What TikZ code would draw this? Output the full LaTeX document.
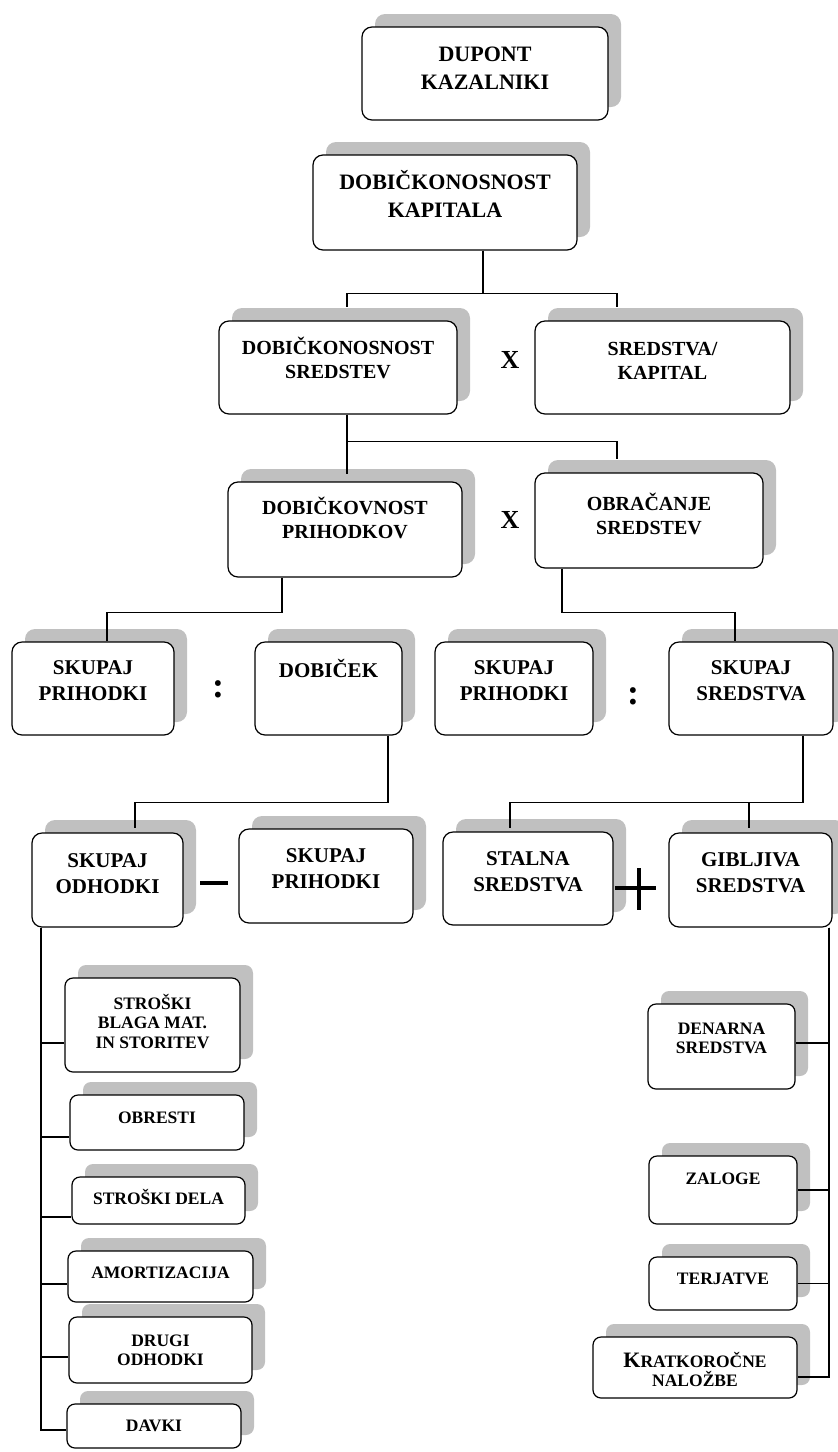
\documentclass[tikz,border=0pt]{standalone}
\usepackage{fontspec}
\setmainfont{Liberation Serif}
\usetikzlibrary{shadows}
\definecolor{shadowgray}{RGB}{192,192,192}
\newcommand{\kt}[4]{\parbox[c][#2pt][t]{#1pt}{\centering\rule{0pt}{#3pt}#4}}
\tikzset{
	kbox/.style={draw, fill=white, line width=1.2pt, rounded corners=10pt, inner sep=0pt,
		drop shadow={shadow xshift=13pt, shadow yshift=13pt, fill=shadowgray, opacity=1}},
	topbox/.style={kbox, font=\bfseries\fontsize{22}{28}\selectfont},
	midbox/.style={kbox, font=\bfseries\fontsize{20}{24}\selectfont},
	rowbox/.style={kbox, font=\bfseries\fontsize{21}{26}\selectfont},
	lowbox/.style={kbox, rounded corners=8pt, font=\bfseries\fontsize{17.5}{19.5}\selectfont},
	conn/.style={line width=1.1pt},
	optext/.style={inner sep=0pt, font=\bfseries\fontsize{26}{26}\selectfont},
	coltext/.style={inner sep=0pt, font=\bfseries\fontsize{36}{36}\selectfont},
	opline/.style={line width=3.5pt},
}
\begin{document}
\begin{tikzpicture}[x=1pt, y=-1pt]
	\useasboundingbox (0,0) rectangle (838,1452);
	\node[topbox] (dup) at (485,73.5) {\kt{246}{93}{34.5}{DUPONT\\KAZALNIKI}};
	\node[topbox] (kap) at (445,202.5) {\kt{264}{95}{34.5}{DOBIČKONOSNOST\\KAPITALA}};
	\node[midbox] (dks) at (338,367.5) {\kt{238}{93}{33}{DOBIČKONOSNOST\\SREDSTEV}};
	\node[midbox] (sk) at (662.5,367.5) {\kt{255}{93}{34}{SREDSTVA/\\KAPITAL}};
	\node[midbox] (prh) at (345,529.5) {\kt{234}{95}{32}{DOBIČKOVNOST\\PRIHODKOV}};
	\node[midbox] (obr) at (649,520.5) {\kt{228}{95}{37}{OBRAČANJE\\SREDSTEV}};
	\node[rowbox] (sp1) at (93,688.5) {\kt{162}{93}{32}{SKUPAJ\\PRIHODKI}};
	\node[rowbox] (dob) at (328.5,688.5) {\kt{147}{93}{35}{DOBIČEK}};
	\node[rowbox] (sp2) at (514,688.5) {\kt{158}{93}{32}{SKUPAJ\\PRIHODKI}};
	\node[rowbox] (ss) at (751,688.5) {\kt{164}{93}{32}{SKUPAJ\\SREDSTVA}};
	\node[rowbox] (so) at (107.5,880) {\kt{151}{94}{34}{SKUPAJ\\ODHODKI}};
	\node[rowbox] (sp3) at (326,876) {\kt{174}{94}{33}{SKUPAJ\\PRIHODKI}};
	\node[rowbox] (st) at (528,878.5) {\kt{170}{93}{33}{STALNA\\SREDSTVA}};
	\node[rowbox] (gs) at (750.5,880) {\kt{163}{94}{33}{GIBLJIVA\\SREDSTVA}};
	\node[lowbox] (sb) at (152.5,1025) {\kt{175}{94}{31}{STROŠKI\\BLAGA MAT.\\IN STORITEV}};
	\node[lowbox] (ob) at (157,1122.5) {\kt{174}{55}{28}{OBRESTI}};
	\node[lowbox] (sd) at (158.5,1200.5) {\kt{173}{47}{27}{STROŠKI DELA}};
	\node[lowbox] (am) at (160.5,1276.5) {\kt{185}{51}{27}{AMORTIZACIJA}};
	\node[lowbox] (dr) at (160.5,1350) {\kt{183}{66}{29}{DRUGI\\ODHODKI}};
	\node[lowbox] (dv) at (154,1426) {\kt{174}{44}{27}{DAVKI}};
	\node[lowbox] (dn) at (721.5,1046.5) {\kt{147}{85}{30}{DENARNA\\SREDSTVA}};
	\node[lowbox] (zl) at (723,1190) {\kt{148}{68}{28}{ZALOGE}};
	\node[lowbox] (tj) at (723,1283.5) {\kt{148}{53}{27}{TERJATVE}};
	\node[lowbox] (kr) at (695,1367.5) {\kt{204}{61}{30}{{\fontsize{22}{21}\selectfont K}RATKOROČNE\\NALOŽBE}};
	\node[optext] (x1) at (510,360) {X};
	\node[optext] (x2) at (510,520) {X};
	\node[coltext] (c1) at (218,689) {:};
	\node[coltext] (c2) at (633,696) {:};
	\draw[opline] (200,883) -- (228,883);
	\draw[opline] (615,888) -- (656,888) (639,868) -- (639,910);
	\draw[conn] ([xshift=38pt]kap.south) -- ++(0,43) -| ([xshift=9pt,yshift=13pt]dks.north);
	\draw[conn] ([xshift=38pt]kap.south) -- ++(0,43) -| ([xshift=-45.5pt,yshift=13pt]sk.north);
	\draw[conn] ([xshift=9pt]dks.south) -- ([xshift=2pt,yshift=7pt]prh.north);
	\draw[conn] ([xshift=9pt]dks.south) -- ++(0,27) -| ([xshift=-32pt,yshift=13pt]obr.north);
	\draw[conn] ([xshift=-63pt]prh.south) -- ++(0,35) -| ([xshift=14pt]sp1.north);
	\draw[conn] ([xshift=-87pt]obr.south) -- ++(0,44) -| ([xshift=-16pt]ss.north);
	\draw[conn] ([xshift=59.5pt]dob.south) -- ++(0,67) -| ([xshift=27.5pt,yshift=4pt]so.north);
	\draw[conn] ([xshift=52pt]ss.south) -- ++(0,67) -| ([xshift=-18pt,yshift=3pt]st.north);
	\draw[conn] ([xshift=52pt]ss.south) -- ++(0,67) -| ([xshift=-1.5pt,yshift=4pt]gs.north);
	\draw[conn] ([xshift=-66.5pt]so.south) |- ([yshift=-18pt]sb.west);
	\draw[conn] ([xshift=-66.5pt]so.south) |- ([yshift=-14.5pt]ob.west);
	\draw[conn] ([xshift=-66.5pt]so.south) |- ([yshift=-16.5pt]sd.west);
	\draw[conn] ([xshift=-66.5pt]so.south) |- ([yshift=-7.5pt]am.west);
	\draw[conn] ([xshift=-66.5pt]so.south) |- ([yshift=-7pt]dr.west);
	\draw[conn] ([xshift=-66.5pt]so.south) |- ([yshift=-4pt]dv.west);
	\draw[conn] ([xshift=78.5pt]gs.south) |- ([yshift=3.5pt]dn.east);
	\draw[conn] ([xshift=78.5pt]gs.south) |- (zl.east);
	\draw[conn] ([xshift=78.5pt]gs.south) |- (tj.east);
	\draw[conn] ([xshift=78.5pt]gs.south) |- ([yshift=-9.5pt]kr.east);
\end{tikzpicture}
\end{document}
